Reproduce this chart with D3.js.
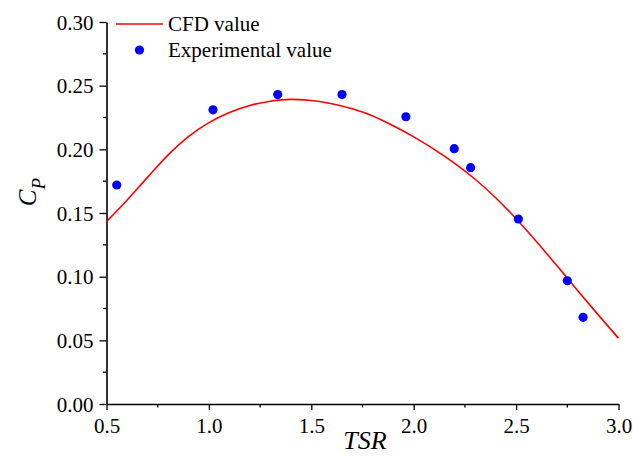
<!DOCTYPE html>
<html>
<head>
<meta charset="utf-8">
<script src="https://cdn.jsdelivr.net/npm/d3@7"></script>
<style>body { margin: 0; background: #fff; }</style>
</head>
<body>
<svg id="chart" width="633" height="459"></svg>
<script>
let serif = "'Liberation Serif'";

// CFD curve (TSR vs Cp)
let cfd_tsr = [0.5, 0.6, 0.7, 0.8, 0.9, 1.0, 1.1, 1.2, 1.3, 1.4, 1.5, 1.6, 1.7,
  1.8, 1.9, 2.0, 2.1, 2.2, 2.3, 2.4, 2.5, 2.6, 2.7, 2.8, 2.9, 3.0];
let cfd_cp = [0.1432, 0.1600, 0.1780, 0.1955, 0.2100, 0.2210, 0.2290, 0.2345, 0.2378,
  0.2392, 0.2383, 0.2358, 0.2318, 0.2262, 0.2185, 0.2098, 0.2000, 0.1890, 0.1765,
  0.1620, 0.1455, 0.1275, 0.1085, 0.0892, 0.0702, 0.0516];

// experimental points
let exp_tsr = [0.55, 1.02, 1.336, 1.65, 1.962, 2.198, 2.278, 2.511, 2.75, 2.827];
let exp_cp = [0.172, 0.231, 0.243, 0.243, 0.2256, 0.2005, 0.1856, 0.1453, 0.0968, 0.0681];

let x_ticks = [0.5, 1.0, 1.5, 2.0, 2.5, 3.0];
let y_ticks = [0.00, 0.05, 0.10, 0.15, 0.20, 0.25, 0.30];

let svg = d3.select("#chart");
let x = d3.scaleLinear().domain([0.5, 3.0]).range([106.5, 618.5]);
let y = d3.scaleLinear().domain([0, 0.30]).range([404, 22]);

// minor ticks halfway between the majors
let x_minor = d3.range(0.75, 3.0, 0.5);
let y_minor = d3.range(0.025, 0.3, 0.05);

let g = svg.append("g");

// x axis
let xg = g.append("g").attr("transform", "translate(0,404)");
xg.call(d3.axisBottom(x).tickValues(x_ticks).tickFormat(d3.format(".1f"))
  .tickSizeInner(6).tickSizeOuter(0).tickPadding(8));
xg.append("g").selectAll("line").data(x_minor).join("line")
  .attr("x1", d => x(d)).attr("x2", d => x(d))
  .attr("y1", 0).attr("y2", 3.5);

// y axis
let yg = g.append("g").attr("transform", "translate(106.5,0)");
yg.call(d3.axisLeft(y).tickValues(y_ticks).tickFormat(d3.format(".2f"))
  .tickSizeInner(7).tickSizeOuter(0).tickPadding(6));
yg.append("g").selectAll("line").data(y_minor).join("line")
  .attr("x1", 0).attr("x2", -3.5)
  .attr("y1", d => y(d)).attr("y2", d => y(d));

[xg, yg].forEach(a => {
  a.attr("font-family", null).attr("font-size", null);
  a.select(".domain").attr("stroke", "#000").attr("stroke-width", 1.6);
  a.selectAll("line").attr("stroke", "#000").attr("stroke-width", 1.3);
  a.selectAll("text").attr("fill", "#000")
    .style("font-family", serif).style("font-size", "21px");
});
yg.selectAll(".tick text").attr("dy", "0.34em");
xg.selectAll(".tick text").attr("dy", "0.71em");

// CFD line
let line = d3.line().x((d, i) => x(cfd_tsr[i])).y(d => y(d)).curve(d3.curveMonotoneX);
g.append("path").datum(cfd_cp)
  .attr("d", line)
  .attr("fill", "none")
  .attr("stroke", "#ff0000")
  .attr("stroke-width", 1.6);

// experimental dots
g.append("g").selectAll("circle").data(exp_cp).join("circle")
  .attr("cx", (d, i) => x(exp_tsr[i]))
  .attr("cy", d => y(d))
  .attr("r", 4.6)
  .attr("fill", "#0000ff");

// legend
let leg = svg.append("g");
leg.append("line").attr("x1", 116).attr("x2", 163).attr("y1", 24).attr("y2", 24)
  .attr("stroke", "#ff0000").attr("stroke-width", 1.6);
leg.append("text").attr("x", 168).attr("y", 31)
  .style("font-family", serif).style("font-size", "21px").text("CFD value");
leg.append("circle").attr("cx", 139.5).attr("cy", 50).attr("r", 4.6).attr("fill", "#0000ff");
leg.append("text").attr("x", 168).attr("y", 57)
  .style("font-family", serif).style("font-size", "21px").text("Experimental value");

// axis titles
svg.append("text")
  .attr("x", 365).attr("y", 449)
  .attr("text-anchor", "middle")
  .style("font-family", serif)
  .style("font-size", "26px").style("font-style", "italic")
  .text("TSR");

let yt = svg.append("text")
  .attr("transform", "translate(36,192) rotate(-90)")
  .attr("text-anchor", "middle")
  .style("font-family", serif)
  .style("font-size", "25px").style("font-style", "italic");
yt.append("tspan").text("C");
yt.append("tspan").attr("dy", 9).style("font-size", "19px").text("P");
</script>
</body>
</html>
